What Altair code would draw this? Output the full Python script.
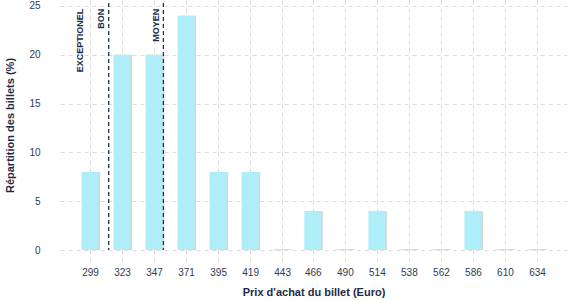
import altair as alt
import pandas as pd

prices = [299, 323, 347, 371, 395, 419, 443, 466, 490, 514, 538, 562, 586, 610, 634]
shares = [8, 20, 20, 24, 8, 8, 0.1, 4, 0.1, 4, 0.1, 0.1, 4, 0.1, 0.1]

zone_labels = ["EXCEPTIONEL", "BON", "MOYEN"]
zone_label_x = [291.5, 307, 348.5]
zone_bounds = [313, 354]

df = pd.DataFrame({"prix": prices, "part": shares})
labels_df = pd.DataFrame({"label": zone_labels, "x": zone_label_x, "y": [24.7] * 3})
bounds_df = pd.DataFrame({"x": zone_bounds, "y": [25.3] * 2, "y2": [0] * 2})

FONT = "Liberation Sans"
xscale = alt.Scale(domain=[276.5, 656.5], nice=False, zero=False, padding=0)
yscale = alt.Scale(domain=[0, 25.6], nice=False, padding=0)

x_axis = alt.Axis(
    values=prices, title="Prix d'achat du billet (Euro)", grid=True,
    gridColor="#dcdcdc", gridDash=[4, 4], domain=False, labelOverlap=False,
    ticks=True, tickSize=15, tickColor="#dcdcdc", tickDash=[4, 4],
    labelPadding=2, labelFontSize=10, labelColor="#2e3a55", labelFont=FONT,
    titleFont=FONT, titleFontSize=11, titleFontWeight="bold", titleColor="#1f2a44",
    titlePadding=9,
)
y_axis = alt.Axis(
    values=[0, 5, 10, 15, 20, 25], title="Répartition des billets (%)", grid=True,
    gridColor="#dcdcdc", gridDash=[4, 4], domain=False, ticks=False,
    labelPadding=20, labelFontSize=10, labelColor="#2e3a55", labelFont=FONT,
    titleFont=FONT, titleFontSize=11, titleFontWeight="bold", titleColor="#1f2a44",
    titlePadding=13,
)

X = alt.X("prix:Q", scale=xscale, axis=x_axis)
Y = alt.Y("part:Q", scale=yscale, axis=y_axis)

shadow = alt.Chart(df).mark_bar(size=17, color="#d6d6d6", xOffset=1.5).encode(x=X, y=Y)
bars = alt.Chart(df).mark_bar(size=17, color="#aeeef8").encode(x=X, y=Y)
rules = alt.Chart(bounds_df).mark_rule(color="#22304f", strokeDash=[4, 3], strokeWidth=1.3).encode(
    x=alt.X("x:Q", scale=xscale, axis=x_axis),
    y=alt.Y("y:Q", scale=yscale, axis=y_axis),
    y2="y2:Q",
)
texts = alt.Chart(labels_df).mark_text(
    angle=270, align="right", baseline="middle", fontSize=9, fontWeight="bold",
    font=FONT, color="#22304f",
).encode(
    x=alt.X("x:Q", scale=xscale, axis=x_axis),
    y=alt.Y("y:Q", scale=yscale, axis=y_axis),
    text="label:N",
)

chart = alt.layer(shadow, bars, rules, texts).properties(
    width=507, height=250,
    autosize=alt.AutoSizeParams(type="none"),
    padding={"left": 60, "top": 0, "right": 5, "bottom": 49},
).configure_view(stroke=None)

chart.save("out.html", embed_options={"renderer": "svg", "actions": False})
